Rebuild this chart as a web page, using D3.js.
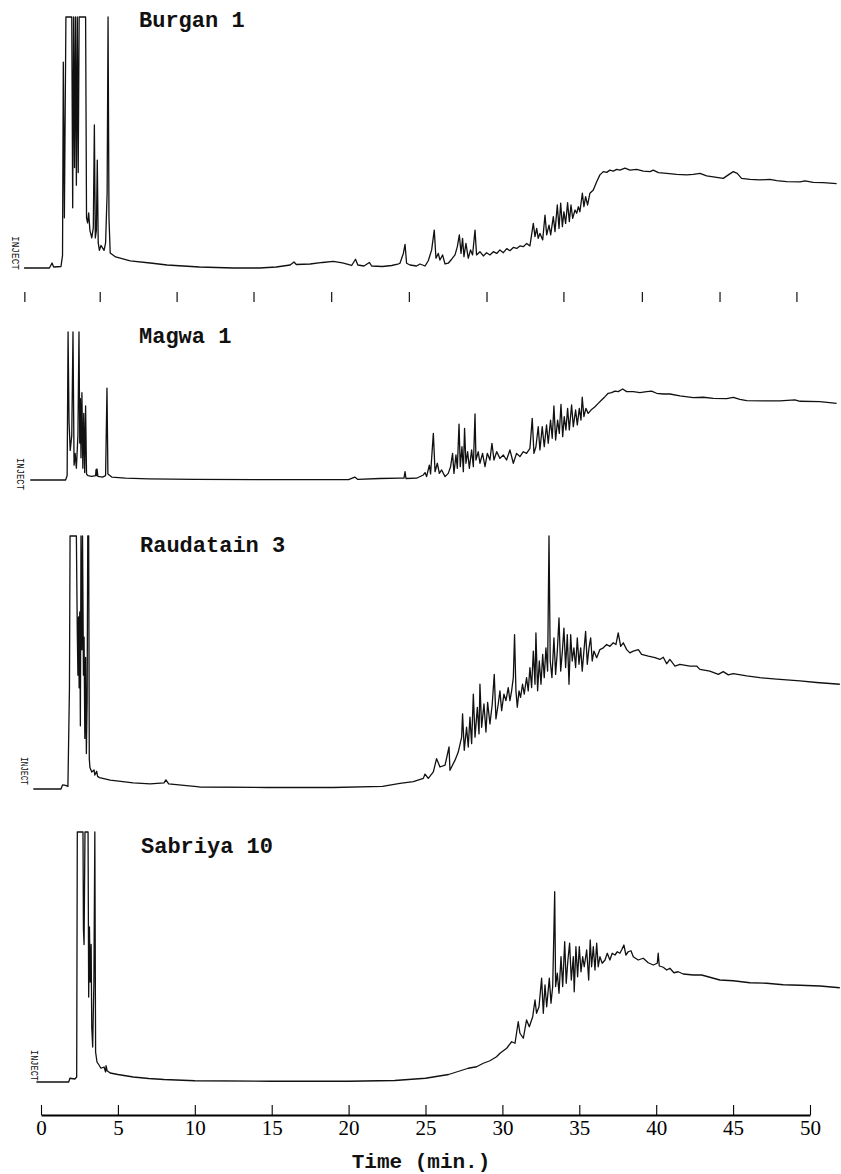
<!DOCTYPE html>
<html><head><meta charset="utf-8">
<script src="https://cdn.jsdelivr.net/npm/d3@7"></script>
<style>html,body{margin:0;padding:0;background:#fff;} svg{display:block;}</style>
</head><body>
<svg id="chart" width="841" height="1174"></svg>
<script>
// ---------- DATA (time in min, detector response in % of full scale) ----------
const sampleNames = ["Burgan 1", "Magwa 1", "Raudatain 3", "Sabriya 10"];
const injectLabel = "INJECT";
const xTitle = "Time (min.)";
const axisTickValues = [0, 5, 10, 15, 20, 25, 30, 35, 40, 45, 50];
const recorderMarks = [-1.05, 3.85, 8.85, 13.85, 18.9, 23.95, 29.0, 34.0, 39.1, 44.15, 49.15];

const burgan = [
[-1.1,0],[0.55,0],[0.72,2],[0.82,0.4],[1.3,0.6],[1.4,5],[1.45,82],[1.52,20],[1.62,100],[2.0,100],[2.06,24],[2.12,100],[2.18,40],[2.24,100],[2.3,33],[2.36,100],[2.42,38],[2.48,100],[2.9,100],[2.96,20],[3.03,18],[3.1,22],[3.18,15],[3.3,12],[3.4,16],[3.47,57],[3.53,12],[3.6,15],[3.66,43],[3.72,10],[3.8,7],[3.9,9],[4.0,8],[4.1,7],[4.2,10],[4.3,30],[4.36,100],[4.42,20],[4.5,6],[4.85,4.4],[5.8,2.8],[7.1,2],[8.2,1.2],[10.3,0.4],[12.5,0],[14.2,0],[15.3,0.4],[16.2,1.2],[16.45,2.4],[16.6,1.4],[17.5,1.6],[18.3,2.2],[19.0,2.6],[19.6,2.0],[20.2,1.0],[20.45,3.5],[20.6,1.2],[21.0,0.8],[21.35,2.2],[21.5,0.8],[22.2,0.6],[22.8,1.0],[23.2,1.5],
[23.34,1.9],[23.56,5.8],[23.67,9.4],[23.77,1.9],[23.99,1.2],[24.42,0.8],[24.64,1.6],[24.97,0.8],[25.18,2.9],[25.4,7.2],[25.57,15.1],[25.68,3.9],[25.83,5.8],[25.94,3.2],[26.11,5.2],[26.27,1.6],[26.48,1.9],[26.7,3.5],[26.92,5.2],[27.07,8.5],[27.2,13.2],[27.31,5.8],[27.41,11.8],[27.5,4.5],[27.63,9.8],[27.78,3.9],[27.93,7.2],[28.06,5.2],[28.22,15.1],[28.32,5.2],[28.54,6.5],[28.76,4.8],[28.97,6.1],[29.19,5.2],[29.41,6.5],[29.63,5.8],[29.84,7.2],[30.06,6.1],[30.28,7.7],[30.49,6.9],[30.71,8.2],[30.93,7.8],[31.14,8.8],[31.36,8.5],[31.58,9.8],[31.79,8.8],[32.01,17.8],[32.12,12.5],[32.23,15.8],[32.33,11.8],[32.44,13.8],[32.62,11.2],[32.77,21.1],[32.88,13.2],[33.03,17.1],[33.14,13.2],[33.31,20.5],[33.42,14.5],[33.57,25.1],[33.68,15.8],[33.79,25.8],[33.9,16.5],[34.0,22.4],[34.11,17.8],[34.24,26.0],[34.35,18.5],[34.46,25.1],[34.57,19.8],[34.72,23.1],[34.83,21.8],[34.94,24.4],[35.04,22.4],[35.2,29.8],[35.3,24.4],[35.41,28.4],[35.54,25.1],[35.69,29.8],[35.91,31.1],[36.13,34.4],[36.34,37.1],[36.56,38.4],[36.78,38.1],[36.99,39.0],[37.21,38.6],[37.43,39.3],[37.64,39.0],[37.97,39.8],[38.29,39.0],[38.73,39.3],[39.16,38.6],[39.6,38.4],[39.81,39.0],[40.14,38.0],[40.68,37.7],[41.33,37.3],[41.98,37.1],[42.41,37.3],[42.85,37.7],[43.28,36.7],[43.93,36.1],[44.36,35.7],[44.69,37.1],[45.01,38.4],[45.27,37.7],[45.55,35.7],[46.1,35.3],[46.75,35.1],[47.4,35.3],[47.83,34.8],[48.48,34.4],[49.35,34.3],[49.67,34.7],[50.21,34.1],[50.86,34.0],[51.73,33.6]
];

const magwa = [
[-0.7,0],[1.6,0],[1.7,3],[1.76,100],[1.82,40],[1.9,20],[2.0,30],[2.08,100],[2.15,10],[2.22,18],[2.3,8],[2.4,30],[2.47,100],[2.52,25],[2.56,55],[2.6,15],[2.66,59],[2.72,8],[2.78,45],[2.84,5],[2.9,50],[2.96,4],[3.05,3],[3.3,2.5],[3.55,3],[3.58,7],[3.61,3],[3.64,7.5],[3.7,2.5],[4.0,2],[4.2,3],[4.29,62],[4.35,4],[4.6,2],[5.5,1.2],[7,0.8],[10,0.4],[15,0.2],[20,0.3],[20.4,2],[20.6,0.4],[22.04,1.0],[23.34,1.2],[23.6,1.2],[23.67,5.6],[23.73,1.0],[24.42,1.2],
[24.86,3.4],[24.97,5.0],[25.07,2.3],[25.25,10.1],[25.33,4.1],[25.51,31.5],[25.62,5.6],[25.77,11.3],[25.9,4.5],[26.05,6.8],[26.27,2.3],[26.48,4.5],[26.63,9.0],[26.76,18.0],[26.85,4.5],[26.98,16.9],[27.07,7.9],[27.18,37.8],[27.26,9.0],[27.37,22.5],[27.46,5.6],[27.54,34.9],[27.63,11.3],[27.74,19.1],[27.85,7.9],[28.0,20.3],[28.11,9.0],[28.22,44.6],[28.28,13.5],[28.43,19.1],[28.54,11.3],[28.71,18.0],[28.87,9.0],[29.02,18.0],[29.19,13.5],[29.32,24.8],[29.45,13.5],[29.63,19.1],[29.84,14.6],[30.06,16.9],[30.27,13.5],[30.49,20.3],[30.71,11.3],[30.92,18.0],[31.14,15.8],[31.36,19.1],[31.57,18.0],[31.79,21.4],[31.94,41.7],[32.05,18.0],[32.18,22.5],[32.33,36.0],[32.44,20.3],[32.59,36.0],[32.72,22.5],[32.87,37.2],[32.98,24.8],[33.13,40.5],[33.24,28.2],[33.35,50.0],[33.46,27.0],[33.59,40.5],[33.7,31.5],[33.81,51.1],[33.92,29.3],[34.02,42.8],[34.13,33.8],[34.24,48.4],[34.35,33.8],[34.5,50.7],[34.61,36.0],[34.76,47.3],[34.87,37.2],[35.0,48.4],[35.11,40.5],[35.19,55.9],[35.3,42.8],[35.43,48.4],[35.58,45.0],[35.8,47.7],[36.02,49.5],[36.23,51.8],[36.45,54.1],[36.67,56.3],[36.88,58.6],[37.1,59.0],[37.32,60.1],[37.53,59.7],[37.82,61.5],[38.08,59.7],[38.51,59.7],[38.94,59.0],[39.38,59.7],[39.7,60.1],[40.03,58.6],[40.46,58.1],[40.89,58.1],[41.54,56.8],[42.41,55.6],[43.06,55.9],[43.71,55.2],[44.58,55.0],[45.01,55.9],[45.44,54.5],[45.88,53.6],[46.96,53.4],[48.04,53.4],[49.02,54.1],[49.35,53.2],[50.64,52.9],[51.73,51.8]
];

const raudatain = [
[-0.5,0],[1.3,0],[1.4,1.6],[1.6,1.4],[1.75,1.0],[1.85,40],[1.89,100],[2.3,100],[2.36,62],[2.4,45],[2.44,68],[2.48,40],[2.52,70],[2.56,25],[2.6,100],[2.66,55],[2.7,100],[2.76,45],[2.8,60],[2.85,20],[2.9,52],[2.95,14],[3.0,35],[3.04,100],[3.1,100],[3.14,12],[3.18,8.6],[3.3,6.7],[3.45,7.5],[3.5,5.5],[3.62,7],[3.68,5],[3.8,4.5],[4.5,3.5],[6.0,2.4],[7.1,2.0],[8.0,2.4],[8.12,3.6],[8.3,2.0],[10.3,0.8],[14.7,0.6],[19,0.6],[22.2,1.0],
[23.34,2.2],[24.21,2.9],[24.86,4.2],[24.97,5.9],[25.18,4.2],[25.51,6.8],[25.72,12.0],[25.94,8.7],[26.27,9.4],[26.53,16.6],[26.59,7.4],[26.92,11.4],[27.13,14.6],[27.35,20.5],[27.41,29.7],[27.52,15.3],[27.67,24.4],[27.78,16.6],[27.89,28.4],[28.0,17.9],[28.11,37.5],[28.22,20.5],[28.37,32.3],[28.48,21.8],[28.54,41.4],[28.65,24.4],[28.8,33.6],[28.93,22.5],[29.04,34.2],[29.19,25.7],[29.34,33.6],[29.47,45.3],[29.58,27.7],[29.73,33.6],[29.84,38.8],[29.95,31.0],[30.1,37.5],[30.23,34.9],[30.38,40.1],[30.49,34.9],[30.6,38.8],[30.71,44.0],[30.79,61.0],[30.88,38.8],[30.97,32.3],[31.08,38.8],[31.18,36.2],[31.31,41.4],[31.42,37.5],[31.57,44.0],[31.68,38.8],[31.79,48.0],[31.9,40.1],[32.01,54.5],[32.12,41.4],[32.18,61.7],[32.29,38.8],[32.4,50.6],[32.51,41.4],[32.62,53.2],[32.72,44.0],[32.83,55.8],[32.94,46.6],[33.03,100],[33.11,50.6],[33.22,44.0],[33.35,59.7],[33.46,45.3],[33.57,54.5],[33.68,67.6],[33.79,46.6],[33.9,54.5],[34.0,63.6],[34.11,48.0],[34.22,61.0],[34.33,41.4],[34.44,61.0],[34.54,50.6],[34.65,55.8],[34.76,48.0],[34.87,59.7],[34.98,49.3],[35.09,55.8],[35.19,46.6],[35.3,54.5],[35.41,62.3],[35.52,49.3],[35.63,55.8],[35.74,59.7],[35.84,50.6],[35.95,54.5],[36.13,51.9],[36.34,55.1],[36.56,55.8],[36.78,57.1],[36.99,56.4],[37.21,57.8],[37.38,57.1],[37.53,61.7],[37.69,56.4],[37.86,57.8],[38.08,55.1],[38.29,53.8],[38.51,54.5],[38.84,55.1],[39.05,53.2],[39.49,52.5],[39.92,51.9],[40.24,51.2],[40.46,52.1],[40.68,49.5],[40.89,51.2],[41.22,48.6],[41.54,49.3],[42.19,48.6],[42.63,48.6],[42.84,47.3],[43.49,46.6],[44.04,45.3],[44.36,46.4],[44.69,45.1],[45.01,45.6],[45.88,44.7],[46.74,44.0],[47.83,43.4],[49.35,42.7],[50.43,42.1],[51.94,41.4]
];

const sabriya = [
[-0.3,0],[1.8,0],[1.88,1.5],[2.2,1.2],[2.32,2],[2.36,100],[2.73,100],[2.76,61],[2.8,55],[2.86,100],[3.06,100],[3.1,34],[3.15,62],[3.2,40],[3.26,55],[3.3,22],[3.36,14],[3.44,40],[3.5,100],[3.55,12],[3.64,8],[3.75,7],[3.9,5.5],[4.1,6],[4.2,4],[4.23,6.5],[4.3,4.5],[4.5,3.6],[5.0,3.0],[6.0,2.0],[7.0,1.4],[8.0,1.0],[10.0,0.5],[15,0.3],[20,0.3],[23,0.6],[25.0,1.5],[26.5,3.0],[27.78,5.5],[28.32,6.1],
[28.76,7.5],[29.19,8.5],[29.62,10.1],[29.84,11.5],[30.28,13.5],[30.6,16.1],[30.82,15.5],[31.03,24.1],[31.14,19.5],[31.36,17.5],[31.57,24.8],[31.75,22.1],[31.97,26.1],[32.12,32.8],[32.22,27.5],[32.38,30.1],[32.55,41.5],[32.66,27.5],[32.77,38.8],[32.88,30.1],[33.05,41.5],[33.16,31.5],[33.27,38.2],[33.35,60.8],[33.4,76.1],[33.46,38.2],[33.57,43.5],[33.68,35.5],[33.81,50.1],[33.92,38.2],[34.05,56.1],[34.15,39.5],[34.26,48.8],[34.37,55.5],[34.48,40.8],[34.61,50.1],[34.67,36.1],[34.78,54.1],[34.89,42.1],[35.0,54.1],[35.11,44.1],[35.22,50.1],[35.32,46.1],[35.48,52.8],[35.61,40.8],[35.71,56.8],[35.8,46.1],[35.91,54.1],[36.02,44.8],[36.13,55.5],[36.23,46.1],[36.34,50.1],[36.49,47.5],[36.67,48.8],[36.82,51.5],[36.99,48.8],[37.14,51.5],[37.32,50.8],[37.47,52.1],[37.64,51.5],[37.75,52.8],[37.9,54.8],[38.03,50.8],[38.18,52.1],[38.36,52.5],[38.51,50.1],[38.83,48.8],[39.16,49.5],[39.48,47.7],[39.81,46.8],[40.07,47.5],[40.13,51.5],[40.2,46.4],[40.46,45.9],[40.68,44.8],[40.89,45.5],[41.15,43.7],[41.43,44.1],[41.76,43.2],[42.41,42.8],[42.95,42.8],[43.49,41.9],[44.14,40.8],[45.01,40.5],[46.09,39.7],[47.18,39.5],[48.26,38.9],[49.35,38.7],[50.65,38.4],[51.94,37.7]
];

// ---------- LAYOUT ----------
const svg = d3.select("#chart");
const x = d3.scaleLinear().domain([0, 50]).range([41, 810]);

const panels = [
  {name: sampleNames[0], data: burgan,    base: 268,  top: 17,  labelX: 139, labelY: 27,  injX: 12, injY: 236, injLen: 34},
  {name: sampleNames[1], data: magwa,     base: 480,  top: 332, labelX: 139, labelY: 343, injX: 17, injY: 458, injLen: 32},
  {name: sampleNames[2], data: raudatain, base: 789,  top: 536, labelX: 140, labelY: 552, injX: 21, injY: 757, injLen: 28},
  {name: sampleNames[3], data: sabriya,   base: 1082, top: 832, labelX: 141, labelY: 853, injX: 31, injY: 1050, injLen: 31}
];

panels.forEach(p => {
  const y = d3.scaleLinear().domain([0, 100]).range([p.base, p.top]);
  const line = d3.line().x(d => x(d[0])).y(d => y(d[1]));
  svg.append("path")
    .datum(p.data)
    .attr("d", line)
    .attr("fill", "none")
    .attr("stroke", "#111")
    .attr("stroke-width", 1.3)
    .attr("stroke-linejoin", "round");

  svg.append("text")
    .attr("x", p.labelX).attr("y", p.labelY)
    .attr("font-family", "'Liberation Mono', 'Courier New', monospace")
    .attr("font-weight", "bold")
    .attr("font-size", 22)
    .attr("fill", "#111")
    .text(p.name);

  svg.append("text")
    .attr("transform", `translate(${p.injX},${p.injY}) rotate(90)`)
    .attr("font-family", "'Liberation Mono', monospace")
    .attr("font-size", 10)
    .attr("textLength", p.injLen)
    .attr("lengthAdjust", "spacingAndGlyphs")
    .attr("fill", "#111")
    .text(injectLabel);
});

// recorder time marks under the first trace
svg.append("g").selectAll("line")
  .data(recorderMarks)
  .join("line")
  .attr("x1", d => x(d)).attr("x2", d => x(d))
  .attr("y1", 292).attr("y2", 302)
  .attr("stroke", "#111").attr("stroke-width", 1.2);

// bottom time axis
const axis = d3.axisBottom(x).tickValues(axisTickValues)
  .tickSizeInner(-10).tickSizeOuter(0).tickPadding(5);
const gAxis = svg.append("g").attr("transform", "translate(0,1115)").call(axis);
gAxis.select(".domain").attr("stroke", "#000").attr("stroke-width", 2.2);
gAxis.selectAll(".tick line").attr("stroke", "#000").attr("stroke-width", 1.1);
gAxis.selectAll(".tick text")
  .attr("font-family", "'Liberation Serif', serif")
  .attr("font-size", 21)
  .attr("fill", "#000");

svg.append("text")
  .attr("x", 421).attr("y", 1168)
  .attr("text-anchor", "middle")
  .attr("font-family", "'Liberation Mono', monospace")
  .attr("font-weight", "bold")
  .attr("font-size", 21)
  .attr("fill", "#111")
  .text(xTitle);
</script>
</body></html>
